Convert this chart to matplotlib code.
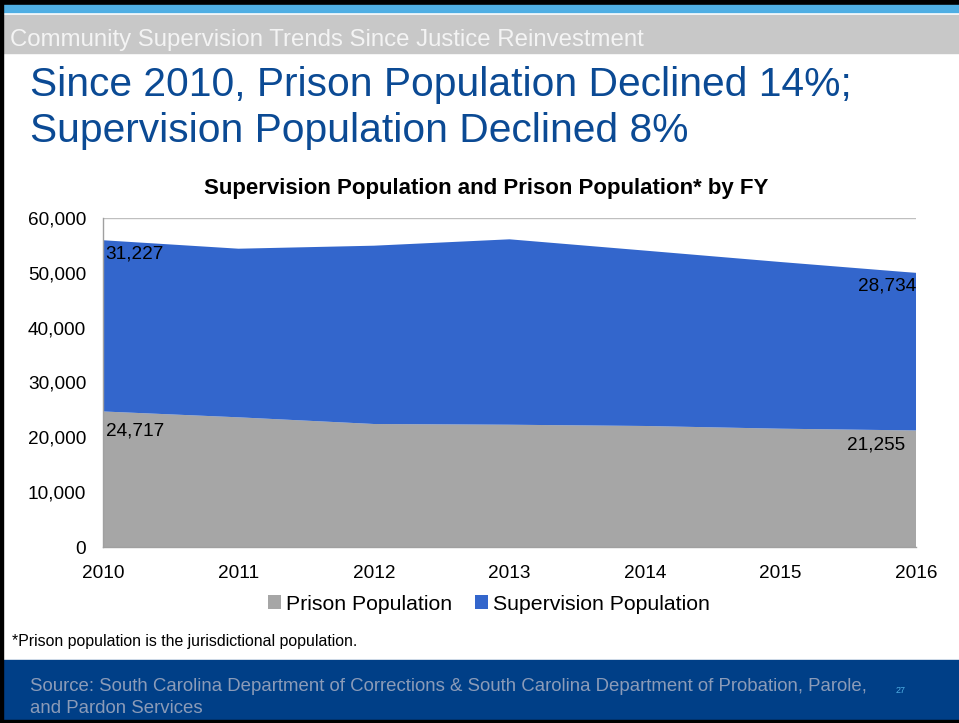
import matplotlib
matplotlib.use("Agg")
import matplotlib.pyplot as plt
from matplotlib.patches import Rectangle
from matplotlib.ticker import FuncFormatter

plt.rcParams['font.family'] = ['Liberation Sans', 'DejaVu Sans']

# *********************
# DATA
# *********************
years = [2010, 2011, 2012, 2013, 2014, 2015, 2016]
prison = [24717, 23650, 22430, 22300, 22070, 21575, 21255]
supervision = [31227, 30750, 32520, 33815, 31985, 30400, 28734]
y_ticks = [0, 10000, 20000, 30000, 40000, 50000, 60000]

PRISON_COLOR = '#A6A6A6'
SUPER_COLOR = '#3366CC'
TITLE_BLUE = '#0B4A94'
BAND_BLUE = '#003F87'

W, H = 959, 723


def fx(px):
    return px / W


def fy(py):
    return 1 - py / H


fig = plt.figure(figsize=(W / 100, H / 100), dpi=100)

# slide frame and bands
fig.add_artist(Rectangle((0, fy(5)), 1, 5 / H, transform=fig.transFigure, color='black'))
fig.add_artist(Rectangle((0, fy(12)), 1, 7 / H, transform=fig.transFigure, color='#4FAEE3'))
fig.add_artist(Rectangle((0, fy(53)), 1, 38 / H, transform=fig.transFigure, color='#C8C8C8'))
fig.add_artist(Rectangle((0, fy(720)), 1, 60 / H, transform=fig.transFigure, color=BAND_BLUE))
fig.add_artist(Rectangle((0, 0), 1, 3 / H, transform=fig.transFigure, color='black'))
fig.add_artist(Rectangle((0, 0), 2.5 / W, 1, transform=fig.transFigure, color='black'))

fig.text(fx(10), fy(46), 'Community Supervision Trends Since Justice Reinvestment',
         color='#F4F4F4', fontsize=17.3, va='baseline', ha='left')
fig.text(fx(30), fy(96), 'Since 2010, Prison Population Declined 14%;',
         color=TITLE_BLUE, fontsize=29.3, va='baseline', ha='left')
fig.text(fx(30), fy(141.5), 'Supervision Population Declined 8%',
         color=TITLE_BLUE, fontsize=29.3, va='baseline', ha='left')
fig.text(fx(486), fy(194), 'Supervision Population and Prison Population* by FY',
         color='black', fontsize=16, fontweight='bold', va='baseline', ha='center')
fig.text(fx(12), fy(646), '*Prison population is the jurisdictional population.',
         color='black', fontsize=11.4, va='baseline', ha='left')
fig.text(fx(30), fy(691), 'Source: South Carolina Department of Corrections & South Carolina '
         'Department of Probation, Parole,', color='#8B9BB8', fontsize=13.4,
         va='baseline', ha='left')
fig.text(fx(30), fy(713), 'and Pardon Services', color='#8B9BB8', fontsize=13.4,
         va='baseline', ha='left')
fig.text(fx(896), fy(693), '27', color='#4FAEE3', fontsize=6.5, va='baseline', ha='left')

# *********************
# CHART
# *********************
ax = fig.add_axes([fx(103), fy(547), (916 - 103) / W, (547 - 218) / H])
ax.stackplot(years, prison, supervision, colors=[PRISON_COLOR, SUPER_COLOR],
             labels=['Prison Population', 'Supervision Population'], zorder=2)

ax.set_xlim(years[0], years[-1])
ax.set_ylim(0, 60000)
ax.set_xticks(years)
ax.set_yticks(y_ticks)
ax.yaxis.set_major_formatter(FuncFormatter(lambda v, p: f'{int(v):,}'))
ax.tick_params(axis='both', length=0, labelsize=13.7, colors='black')
ax.tick_params(axis='x', pad=13)
ax.tick_params(axis='y', pad=12)
ax.grid(axis='y', color='#BFBFBF', linewidth=1, zorder=0)
for side in ['top', 'right']:
    ax.spines[side].set_visible(False)
for side in ['left', 'bottom']:
    ax.spines[side].set_color('#A0A0A0')
    ax.spines[side].set_linewidth(1)
    ax.spines[side].set_zorder(3)

# data labels at first and last year
tops = [p + s for p, s in zip(prison, supervision)]
ax.annotate(f'{supervision[0]:,}', (years[0], tops[0]), xytext=(2, -4),
            textcoords='offset points', ha='left', va='top', fontsize=13.7, zorder=4)
ax.annotate(f'{prison[0]:,}', (years[0], prison[0]), xytext=(2, -8),
            textcoords='offset points', ha='left', va='top', fontsize=13.7, zorder=4)
ax.annotate(f'{supervision[-1]:,}', (years[-1], tops[-1]), xytext=(0, -3),
            textcoords='offset points', ha='right', va='top', fontsize=13.7, zorder=4)
ax.annotate(f'{prison[-1]:,}', (years[-1], prison[-1]), xytext=(-8, -4),
            textcoords='offset points', ha='right', va='top', fontsize=13.7, zorder=4)

fig.legend(loc='center', bbox_to_anchor=(fx(489), fy(604)), ncol=2, frameon=False,
           fontsize=15.3, handlelength=0.6, handleheight=0.6, handletextpad=0.25,
           columnspacing=1.1)

fig.savefig('out.png', dpi=100)
